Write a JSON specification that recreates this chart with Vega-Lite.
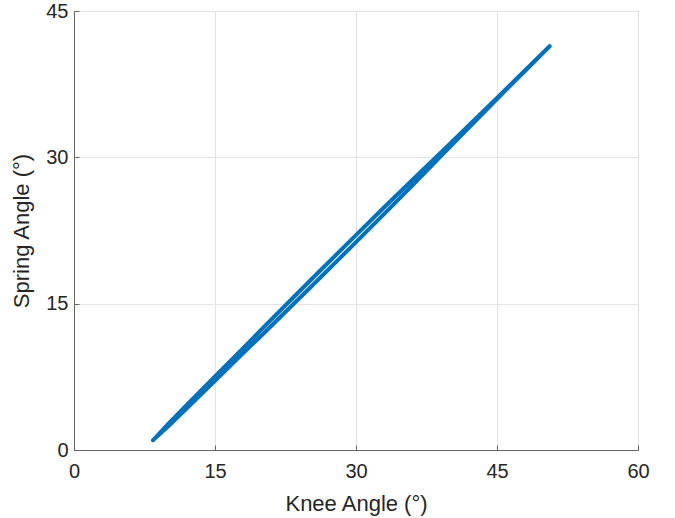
{
  "$schema": "https://vega.github.io/schema/vega-lite/v6.json",
  "autosize": {"type": "none"},
  "padding": {"left": 74, "top": 11, "right": 37, "bottom": 68},
  "width": 564,
  "height": 439,
  "background": "white",
  "config": {
    "view": {"stroke": "#666666", "strokeWidth": 1},
    "font": "Liberation Sans",
    "axis": {
      "labelFont": "Liberation Sans",
      "titleFont": "Liberation Sans",
      "labelFontSize": 20,
      "titleFontSize": 22,
      "labelColor": "#262626",
      "titleColor": "#262626",
      "titleFontWeight": "normal",
      "domainColor": "#666666",
      "tickColor": "#666666",
      "gridColor": "#e3e3e3",
      "gridWidth": 1,
      "tickSize": -5,
      "labelFlush": false
    }
  },
  "data": {
    "values": [
      {"t": 1, "knee": 8.4, "spring": 1.0},
      {"t": 2, "knee": 10, "spring": 2.655},
      {"t": 3, "knee": 12, "spring": 4.625},
      {"t": 4, "knee": 15, "spring": 7.545},
      {"t": 5, "knee": 18, "spring": 10.44},
      {"t": 6, "knee": 20, "spring": 12.41},
      {"t": 7, "knee": 25, "spring": 17.25},
      {"t": 8, "knee": 30, "spring": 22.03},
      {"t": 9, "knee": 33, "spring": 24.88},
      {"t": 10, "knee": 36, "spring": 27.685},
      {"t": 11, "knee": 40, "spring": 31.4},
      {"t": 12, "knee": 45, "spring": 36.09},
      {"t": 13, "knee": 48, "spring": 38.925},
      {"t": 14, "knee": 50.6, "spring": 41.39},
      {"t": 15, "knee": 48, "spring": 38.875},
      {"t": 16, "knee": 45, "spring": 35.97},
      {"t": 17, "knee": 40, "spring": 31.08},
      {"t": 18, "knee": 36, "spring": 27.135},
      {"t": 19, "knee": 33, "spring": 24.2},
      {"t": 20, "knee": 30, "spring": 21.31},
      {"t": 21, "knee": 25, "spring": 16.53},
      {"t": 22, "knee": 20, "spring": 11.79},
      {"t": 23, "knee": 18, "spring": 9.94},
      {"t": 24, "knee": 15, "spring": 7.095},
      {"t": 25, "knee": 12, "spring": 4.275},
      {"t": 26, "knee": 10, "spring": 2.405},
      {"t": 27, "knee": 8.4, "spring": 1.0}
    ]
  },
  "mark": {"type": "line", "color": "#0072BD", "strokeWidth": 4, "strokeCap": "round", "strokeJoin": "round"},
  "encoding": {
    "x": {
      "field": "knee", "type": "quantitative",
      "scale": {"domain": [0, 60], "nice": false, "zero": false},
      "axis": {"values": [0, 15, 30, 45, 60], "title": "Knee Angle (°)", "labelPadding": 16, "titlePadding": 12}
    },
    "y": {
      "field": "spring", "type": "quantitative",
      "scale": {"domain": [0, 45], "nice": false, "zero": false},
      "axis": {"values": [0, 15, 30, 45], "title": "Spring Angle (°)", "labelPadding": 11, "titlePadding": 12}
    },
    "order": {"field": "t", "type": "quantitative"}
  }
}
